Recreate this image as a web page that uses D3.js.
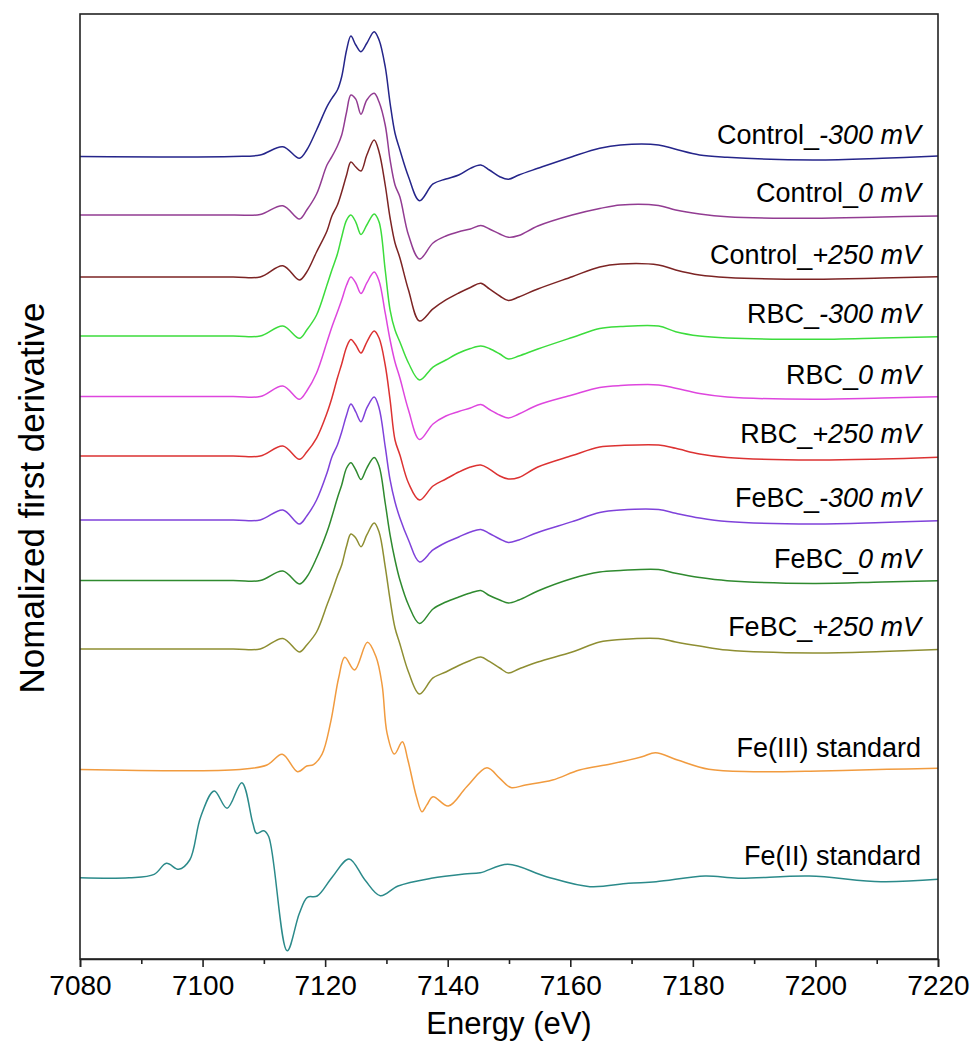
<!DOCTYPE html>
<html>
<head>
<meta charset="utf-8">
<script src="https://cdn.jsdelivr.net/npm/d3@7"></script>
<style>
  body { margin: 0; background: #fff; }
  svg { display: block; }
  text { font-family: "Liberation Sans", Arial, sans-serif; fill: #000; }
</style>
</head>
<body>
<svg id="chart" width="974" height="1046"></svg>
<script>
// Energy grid (eV) shared by the nine sample spectra
const sampleEnergy = [7080, 7105, 7109.4, 7113.1, 7115.8, 7117.0, 7118.6, 7120.3, 7121.1, 7122.0,
  7122.7, 7123.5, 7124.2, 7125.0, 7125.85, 7126.8, 7128.0, 7128.8, 7129.8, 7130.6,
  7131.4, 7132.2, 7133.6, 7135.4, 7137.6, 7139.7, 7141.8, 7143.7, 7145.4, 7146.8,
  7148.5, 7149.9, 7151.6, 7154.7, 7160.3, 7164.8, 7168.2, 7174.4, 7177.2, 7181.1,
  7185.6, 7199.6, 7210.9, 7220];

// Normalized first-derivative values for each sample
const controlM300 = [0, 0, 0.025, 0.163, -0.03, 0.108, 0.442, 0.83, 0.97, 1.108,
  1.33, 1.775, 2.008, 1.858, 1.747, 1.887, 2.08, 1.942, 1.497, 0.887,
  0.387, 0.108, -0.337, -0.737, -0.458, -0.375, -0.308, -0.197, -0.142, -0.225,
  -0.337, -0.38, -0.308, -0.197, -0.003, 0.137, 0.192, 0.192, 0.12, 0.025,
  -0.013, -0.058, -0.03, 0.008];
const control0 = [0, 0, 0.008, 0.155, -0.067, 0.083, 0.35, 0.833, 0.972, 1.15,
  1.333, 1.717, 2.0, 1.93, 1.678, 1.917, 2.028, 1.883, 1.5, 0.917,
  0.5, 0.3, -0.333, -0.733, -0.467, -0.35, -0.278, -0.233, -0.175, -0.233,
  -0.317, -0.372, -0.342, -0.183, 0, 0.108, 0.167, 0.158, 0.083, 0.017,
  -0.028, -0.055, -0.033, -0.017];
const controlP250 = [0, 0, 0, 0.188, -0.05, 0.083, 0.417, 0.767, 1.017, 1.2,
  1.417, 1.7, 1.917, 1.833, 1.767, 2.033, 2.283, 2.083, 1.533, 0.983,
  0.567, 0.317, -0.217, -0.733, -0.533, -0.383, -0.267, -0.175, -0.105, -0.2,
  -0.317, -0.392, -0.333, -0.2, 0.005, 0.167, 0.217, 0.2, 0.117, 0.033,
  -0.008, -0.038, -0.017, 0.005];
const rbcM300 = [0, 0, 0, 0.167, -0.038, 0.1, 0.35, 0.85, 1.1, 1.367,
  1.65, 1.933, 2.017, 1.9, 1.692, 1.85, 2.033, 1.9, 1.1, 0.433,
  0.1, -0.1, -0.45, -0.733, -0.517, -0.4, -0.283, -0.208, -0.167, -0.208,
  -0.3, -0.383, -0.333, -0.217, -0.025, 0.125, 0.158, 0.167, 0.072, 0,
  -0.033, -0.055, -0.033, -0.012];
const rbc0 = [0, 0, 0, 0.175, -0.047, 0.092, 0.392, 0.908, 1.158, 1.408,
  1.608, 1.858, 1.992, 1.892, 1.717, 1.892, 2.075, 1.925, 1.392, 0.942,
  0.575, 0.308, -0.225, -0.717, -0.458, -0.325, -0.25, -0.192, -0.133, -0.217,
  -0.308, -0.358, -0.292, -0.142, 0.025, 0.15, 0.183, 0.192, 0.137, 0.05,
  -0.008, -0.047, -0.025, -0.003];
const rbcP250 = [0, 0, 0, 0.167, -0.055, 0.067, 0.3, 0.717, 0.967, 1.3,
  1.533, 1.817, 1.942, 1.85, 1.717, 1.9, 2.083, 1.967, 1.517, 0.933,
  0.267, 0.017, -0.45, -0.733, -0.5, -0.383, -0.267, -0.183, -0.15, -0.217,
  -0.333, -0.383, -0.358, -0.183, 0.008, 0.15, 0.175, 0.183, 0.128, 0.033,
  -0.025, -0.067, -0.05, -0.022];
const febcM300 = [0, 0, 0, 0.167, -0.067, 0.067, 0.333, 0.783, 1.05, 1.25,
  1.467, 1.75, 1.933, 1.8, 1.638, 1.867, 2.05, 1.867, 1.222, 0.667,
  0.3, 0.033, -0.333, -0.7, -0.5, -0.375, -0.283, -0.2, -0.158, -0.225,
  -0.317, -0.375, -0.333, -0.208, -0.028, 0.125, 0.167, 0.175, 0.112, 0.033,
  -0.025, -0.067, -0.042, -0.012];
const febc0 = [0, 0, 0, 0.158, -0.058, 0.058, 0.375, 0.808, 1.063, 1.375,
  1.592, 1.875, 1.963, 1.842, 1.683, 1.875, 2.05, 1.908, 1.292, 0.758,
  0.342, 0.008, -0.408, -0.717, -0.475, -0.358, -0.275, -0.208, -0.167, -0.25,
  -0.325, -0.375, -0.325, -0.175, 0.033, 0.142, 0.167, 0.183, 0.12, 0.05,
  -0.003, -0.05, -0.025, -0.003];
const febcP250 = [0, 0, 0, 0.175, -0.05, 0.067, 0.283, 0.733, 0.95, 1.217,
  1.4, 1.717, 1.917, 1.85, 1.705, 1.9, 2.1, 1.95, 1.372, 0.817,
  0.35, 0.083, -0.383, -0.75, -0.483, -0.383, -0.275, -0.192, -0.133, -0.208,
  -0.317, -0.4, -0.333, -0.217, -0.05, 0.117, 0.158, 0.175, 0.117, 0.05,
  -0.017, -0.067, -0.042, -0.008];

// Reference compounds
const fe3Energy = [7080, 7106.1, 7110.5, 7113.0, 7115.5, 7117.0, 7118.1, 7119.5, 7120.9, 7122.2,
  7123.2, 7124.8, 7126.9, 7128.3, 7129.3, 7130.1, 7131.3, 7132.6, 7133.5, 7134.9,
  7135.8, 7136.6, 7137.6, 7140.1, 7143.1, 7146.4, 7148.5, 7150.3, 7152.7, 7157.1,
  7161.5, 7166.6, 7171.7, 7173.9, 7177.5, 7182.6, 7189.9, 7200.8, 7211.7, 7220];
const fe3Value = [0, 0, 0.075, 0.255, -0.037, 0.058, 0.083, 0.258, 0.79, 1.525,
  1.87, 1.658, 2.12, 1.88, 1.408, 0.608, 0.258, 0.463, 0.158, -0.453,
  -0.703, -0.59, -0.453, -0.608, -0.287, 0.028, -0.147, -0.3, -0.258, -0.175,
  -0.008, 0.092, 0.213, 0.28, 0.158, 0.003, -0.037, -0.025, 0.003, 0.02];
const fe2Energy = [7080, 7088.0, 7092.1, 7094.1, 7096.1, 7097.9, 7099.7, 7101.9, 7104.0, 7106.4,
  7108.2, 7108.8, 7110.0, 7110.8, 7113.8, 7115.8, 7117.1, 7118.7, 7121.2, 7123.9,
  7126.5, 7129.0, 7131.9, 7137.3, 7142.7, 7145.3, 7149.8, 7156.1, 7163.2, 7169.5,
  7174.0, 7182.0, 7187.4, 7199.0, 7210.7, 7220];
const fe2Value = [0, 0, 0.056, 0.24, 0.14, 0.295, 1.017, 1.445, 1.157, 1.583,
  0.907, 0.74, 0.783, 0.683, -1.217, -0.593, -0.327, -0.305, 0.017, 0.312,
  -0.038, -0.3, -0.138, -0.01, 0.062, 0.083, 0.223, 0.017, -0.15, -0.093,
  -0.067, 0.028, -0.01, 0.028, -0.067, -0.027];

// Series descriptors (top to bottom)
const seriesPrefix = ["Control_", "Control_", "Control_", "RBC_", "RBC_", "RBC_",
  "FeBC_", "FeBC_", "FeBC_", "Fe(III) standard", "Fe(II) standard"];
const seriesPotential = ["-300 mV", "0 mV", "+250 mV", "-300 mV", "0 mV", "+250 mV",
  "-300 mV", "0 mV", "+250 mV", "", ""];
const seriesOffset = [13.375, 12.4, 11.367, 10.383, 9.375, 8.383, 7.317, 6.308, 5.167, 3.158, 1.355];
const seriesColor = ["#25258a", "#923c92", "#7c2424", "#3cdc3c", "#de46de", "#dc3232",
  "#7f42da", "#2f8a2f", "#8e8e32", "#f19b3f", "#2b8a8a"];

const xTicks = [7080, 7100, 7120, 7140, 7160, 7180, 7200, 7220];
const xMinorTicks = [7090, 7110, 7130, 7150, 7170, 7190, 7210];

const sampleValues = [controlM300, control0, controlP250, rbcM300, rbc0, rbcP250, febcM300, febc0, febcP250];
const seriesEnergy = sampleValues.map(() => sampleEnergy).concat([fe3Energy, fe2Energy]);
const seriesValues = sampleValues.concat([fe3Value, fe2Value]);

const W = 974, H = 1046;
const margin = { top: 14, right: 36, bottom: 87, left: 80 };
const svg = d3.select("#chart");

const x = d3.scaleLinear().domain([7080, 7220]).range([margin.left, W - margin.right]);
const y = d3.scaleLinear().domain([0, 15.75]).range([H - margin.bottom, margin.top]);

const line = d3.line()
  .x(d => x(d[0]))
  .y(d => y(d[1]))
  .curve(d3.curveCatmullRom.alpha(0.5));

const series = seriesValues.map((vals, i) => ({
  points: vals.map((v, k) => [seriesEnergy[i][k], v + seriesOffset[i]]),
  color: seriesColor[i],
  offset: seriesOffset[i],
  prefix: seriesPrefix[i],
  potential: seriesPotential[i]
}));

const plot = svg.append("g");
plot.selectAll("path.spectrum")
  .data(series)
  .join("path")
  .attr("class", "spectrum")
  .attr("fill", "none")
  .attr("stroke", d => d.color)
  .attr("stroke-width", 1.5)
  .attr("stroke-linejoin", "round")
  .attr("d", d => line(d.points));

// Series labels, right-aligned above each trace's tail
const labels = plot.selectAll("text.label")
  .data(series)
  .join("text")
  .attr("class", "label")
  .attr("x", x(7220) - 17)
  .attr("y", d => y(d.offset) - 13)
  .attr("text-anchor", "end")
  .style("font-size", "27px");
labels.append("tspan").text(d => d.prefix);
labels.append("tspan").style("font-style", "italic").text(d => d.potential);

// Frame
svg.append("rect")
  .attr("x", margin.left)
  .attr("y", margin.top)
  .attr("width", W - margin.left - margin.right)
  .attr("height", H - margin.top - margin.bottom)
  .attr("fill", "none")
  .attr("stroke", "#222")
  .attr("stroke-width", 1.6);

// Bottom axis: major ticks with labels, minor ticks without
const xAxis = svg.append("g")
  .attr("transform", `translate(0,${H - margin.bottom})`)
  .call(d3.axisBottom(x).tickValues(xTicks).tickSize(8).tickPadding(8).tickFormat(d3.format("d")));
xAxis.select(".domain").attr("stroke", "#222").attr("stroke-width", 1.6);
xAxis.selectAll(".tick line").attr("stroke", "#222").attr("stroke-width", 1.6);
xAxis.selectAll(".tick text")
  .style("font-size", "28px")
  .style("font-family", "'Liberation Sans', Arial, sans-serif")
  .attr("fill", "#111");

const xMinor = svg.append("g")
  .attr("transform", `translate(0,${H - margin.bottom})`)
  .call(d3.axisBottom(x).tickValues(xMinorTicks).tickSize(5).tickFormat(""));
xMinor.select(".domain").remove();
xMinor.selectAll(".tick line").attr("stroke", "#222").attr("stroke-width", 1.6);

// Axis titles
svg.append("text")
  .attr("x", (margin.left + W - margin.right) / 2)
  .attr("y", 1034)
  .attr("text-anchor", "middle")
  .style("font-size", "31px")
  .attr("fill", "#111")
  .text("Energy (eV)");

svg.append("text")
  .attr("transform", `translate(44,498) rotate(-90)`)
  .attr("text-anchor", "middle")
  .style("font-size", "35px")
  .attr("fill", "#111")
  .text("Nomalized first derivative");
</script>
</body>
</html>
